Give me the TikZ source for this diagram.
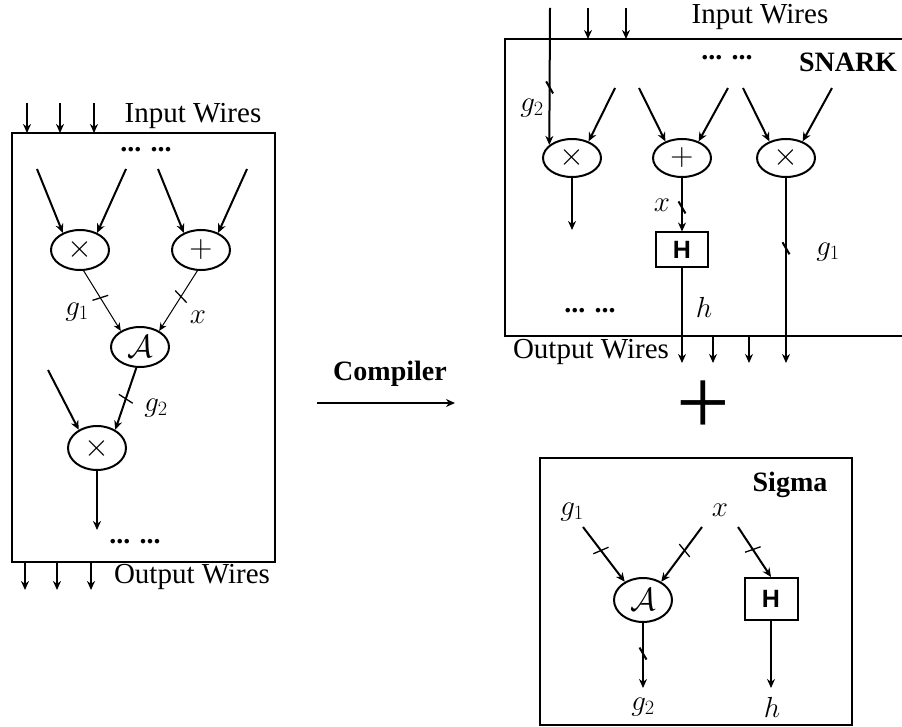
\RequirePackage{fix-cm}
\documentclass[tikz,border=0pt]{standalone}
\usepackage{amsmath}
\usepackage{amssymb}
\usepackage{fontspec}
\setmainfont{Liberation Serif}
\setsansfont{Liberation Sans}
\usepackage{tikz}
\usetikzlibrary{shapes.geometric,arrows.meta,decorations.markings}

\tikzset{
  wire/.style={line width=2pt,-{Stealth[length=9pt,width=8pt]}},
  fine/.style={line width=1pt,-{Stealth[length=8pt,width=7pt]}},
  gate/.style={ellipse,draw,line width=2pt,minimum width=58pt,minimum height=40pt,inner sep=0pt,font=\fontsize{32}{32}\selectfont},
  hash/.style={draw,line width=2pt,minimum width=52pt,minimum height=35pt,inner sep=0pt,font=\sffamily\bfseries\fontsize{25}{25}\selectfont},
  frame/.style={line width=2pt},
  lbl/.style={font=\fontsize{29}{32}\selectfont},
  ttl/.style={font=\bfseries\fontsize{28}{30}\selectfont},
  cut/.style={postaction={decorate,decoration={markings,mark=at position #1 with {\draw[-,line width=1.3pt] (-2pt,-8pt) -- (2pt,8pt);}}}},
  nick/.style={postaction={decorate,decoration={markings,mark=at position #1 with {\draw[-,line width=2pt] (-6pt,-3.5pt) -- (6pt,3.5pt);}}}},
}

\begin{document}
\begin{tikzpicture}[x=1pt,y=-1pt]
  \useasboundingbox (0,0) rectangle (902,727);
  % the circuit on the left
  \draw[frame] (12,133) rectangle (275,562);
  \foreach \i/\x in {1/27,2/60,3/94} {
    \coordinate (li\i) at (\x,103);
    \coordinate (lt\i) at (\x,133);
    \draw[wire] (li\i) -- (lt\i);
  }
  \node[lbl] (lin) at (193,116) {Input Wires};
  \node[ttl] (ldots) at (146,150) {... ...};
  \node[gate] (lmul) at (80,250) {$\times$};
  \node[gate] (ladd) at (201,250) {$+$};
  \node[gate] (lalg) at (140,347) {$\mathcal{A}$};
  \node[gate,minimum height=44pt] (lmul2) at (97,448) {$\times$};
  \coordinate (la1) at (37,169);
  \coordinate (la2) at (126,169);
  \coordinate (la3) at (158,169);
  \coordinate (la4) at (247,169);
  \coordinate (la5) at (48,370);
  \draw[wire] (la1) -- (lmul.135);
  \draw[wire] (la2) -- (lmul.45);
  \draw[wire] (la3) -- (ladd.135);
  \draw[wire] (la4) -- (ladd.45);
  % g1 and x into A
  \draw[fine,cut=0.45] (lmul.-80) -- (lalg.140);
  \draw[fine,cut=0.43] (ladd.-100) -- (lalg.40);
  \node[lbl] (lg1) at (77,312) {$g_1$};
  \node[lbl] (lx) at (198,317) {$x$};
  \draw[wire,cut=0.5] (lalg.-100) -- (lmul2.45);
  \node[lbl] (lg2) at (156,408) {$g_2$};
  \draw[wire] (la5) -- (lmul2.135);
  \coordinate (lend) at (97,530);
  \draw[wire] (lmul2) -- (lend);
  \node[ttl] (ldots2) at (135,542) {... ...};
  \foreach \i/\x in {1/25,2/57,3/91} {
    \coordinate (lb\i) at (\x,562);
    \coordinate (lo\i) at (\x,590);
    \draw[wire] (lb\i) -- (lo\i);
  }
  \node[lbl] (lout) at (192,577) {Output Wires};

  % compiler
  \coordinate (cs) at (317,403);
  \coordinate (ce) at (455,403);
  \draw[wire] (cs) -- (ce);
  \node[ttl] (comp) at (390,374) {Compiler};

  % SNARK
  \draw[frame] (904,39) -- (505,39) -- (505,336) -- (904,336);
  \node[lbl] (sin) at (760,17) {Input Wires};
  \node[ttl] (sdots) at (727,58) {... ...};
  \node[ttl] (snark) at (848,62) {SNARK};
  \node[gate,minimum height=38pt] (smul) at (572,158) {$\times$};
  \node[gate,minimum height=38pt] (sadd) at (682,158) {$+$};
  \node[gate,minimum height=38pt] (smul2) at (786,158) {$\times$};
  \coordinate (si1) at (550,8);
  \foreach \i/\x in {2/588,3/626} {
    \coordinate (si\i) at (\x,8);
    \coordinate (st\i) at (\x,39);
    \draw[wire] (si\i) -- (st\i);
  }
  \draw[wire,nick=0.58] (si1) -- (smul.150);
  \node[lbl] (sg2) at (532,108) {$g_2$};
  \coordinate (sa1) at (615,88);
  \coordinate (sa2) at (639,88);
  \coordinate (sa3) at (728,88);
  \coordinate (sa4) at (743,88);
  \coordinate (sa5) at (832,88);
  \draw[wire] (sa1) -- (smul.45);
  \draw[wire] (sa2) -- (sadd.135);
  \draw[wire] (sa3) -- (sadd.45);
  \draw[wire] (sa4) -- (smul2.135);
  \draw[wire] (sa5) -- (smul2.45);
  \coordinate (send) at (572,230);
  \draw[wire] (smul) -- (send);
  \node[hash] (sh) at (682,250) {H};
  \draw[wire,nick=0.55] (sadd) -- (sh);
  \node[lbl] (sx) at (662,205) {$x$};
  \coordinate (so1) at (682,363);
  \coordinate (so4) at (786,363);
  \draw[wire] (sh) -- (so1);
  \draw[wire,nick=0.38] (smul2) -- (so4);
  \node[lbl] (sg1) at (828,252) {$g_1$};
  \node[lbl] (sh1) at (704,307) {$h$};
  \foreach \i/\x in {2/713,3/749} {
    \coordinate (sb\i) at (\x,336);
    \coordinate (so\i) at (\x,363);
    \draw[wire] (sb\i) -- (so\i);
  }
  \node[ttl] (sdots2) at (590,311) {... ...};
  \node[lbl] (sout) at (591,352) {Output Wires};

  % plus
  \node[font=\fontsize{95}{95}\selectfont,inner sep=0pt] (plus) at (703,408) {+};

  % Sigma
  \draw[frame] (540,458) rectangle (852,725);
  \node[ttl] (sigma) at (790,485) {Sigma};
  \node[lbl] (zg1) at (572,512) {$g_1$};
  \node[lbl] (zx) at (720,510) {$x$};
  \coordinate (zi1) at (583,527);
  \coordinate (zi2) at (702,527);
  \coordinate (zi3) at (738,527);
  \node[gate,minimum height=44pt] (zalg) at (643,600) {$\mathcal{A}$};
  \node[hash,minimum width=53pt,minimum height=42pt] (zh) at (771,599) {H};
  \draw[wire,cut=0.43] (zi1) -- (zalg.135);
  \draw[wire,cut=0.43] (zi2) -- (zalg.45);
  \draw[wire,cut=0.45] (zi3) -- (zh.north);
  \coordinate (zo1) at (643,688);
  \coordinate (zo2) at (771,688);
  \draw[wire,nick=0.47] (zalg) -- (zo1);
  \draw[wire] (zh) -- (zo2);
  \node[lbl] (zg2) at (643,707) {$g_2$};
  \node[lbl] (zh1) at (772,707) {$h$};
\end{tikzpicture}
\end{document}
